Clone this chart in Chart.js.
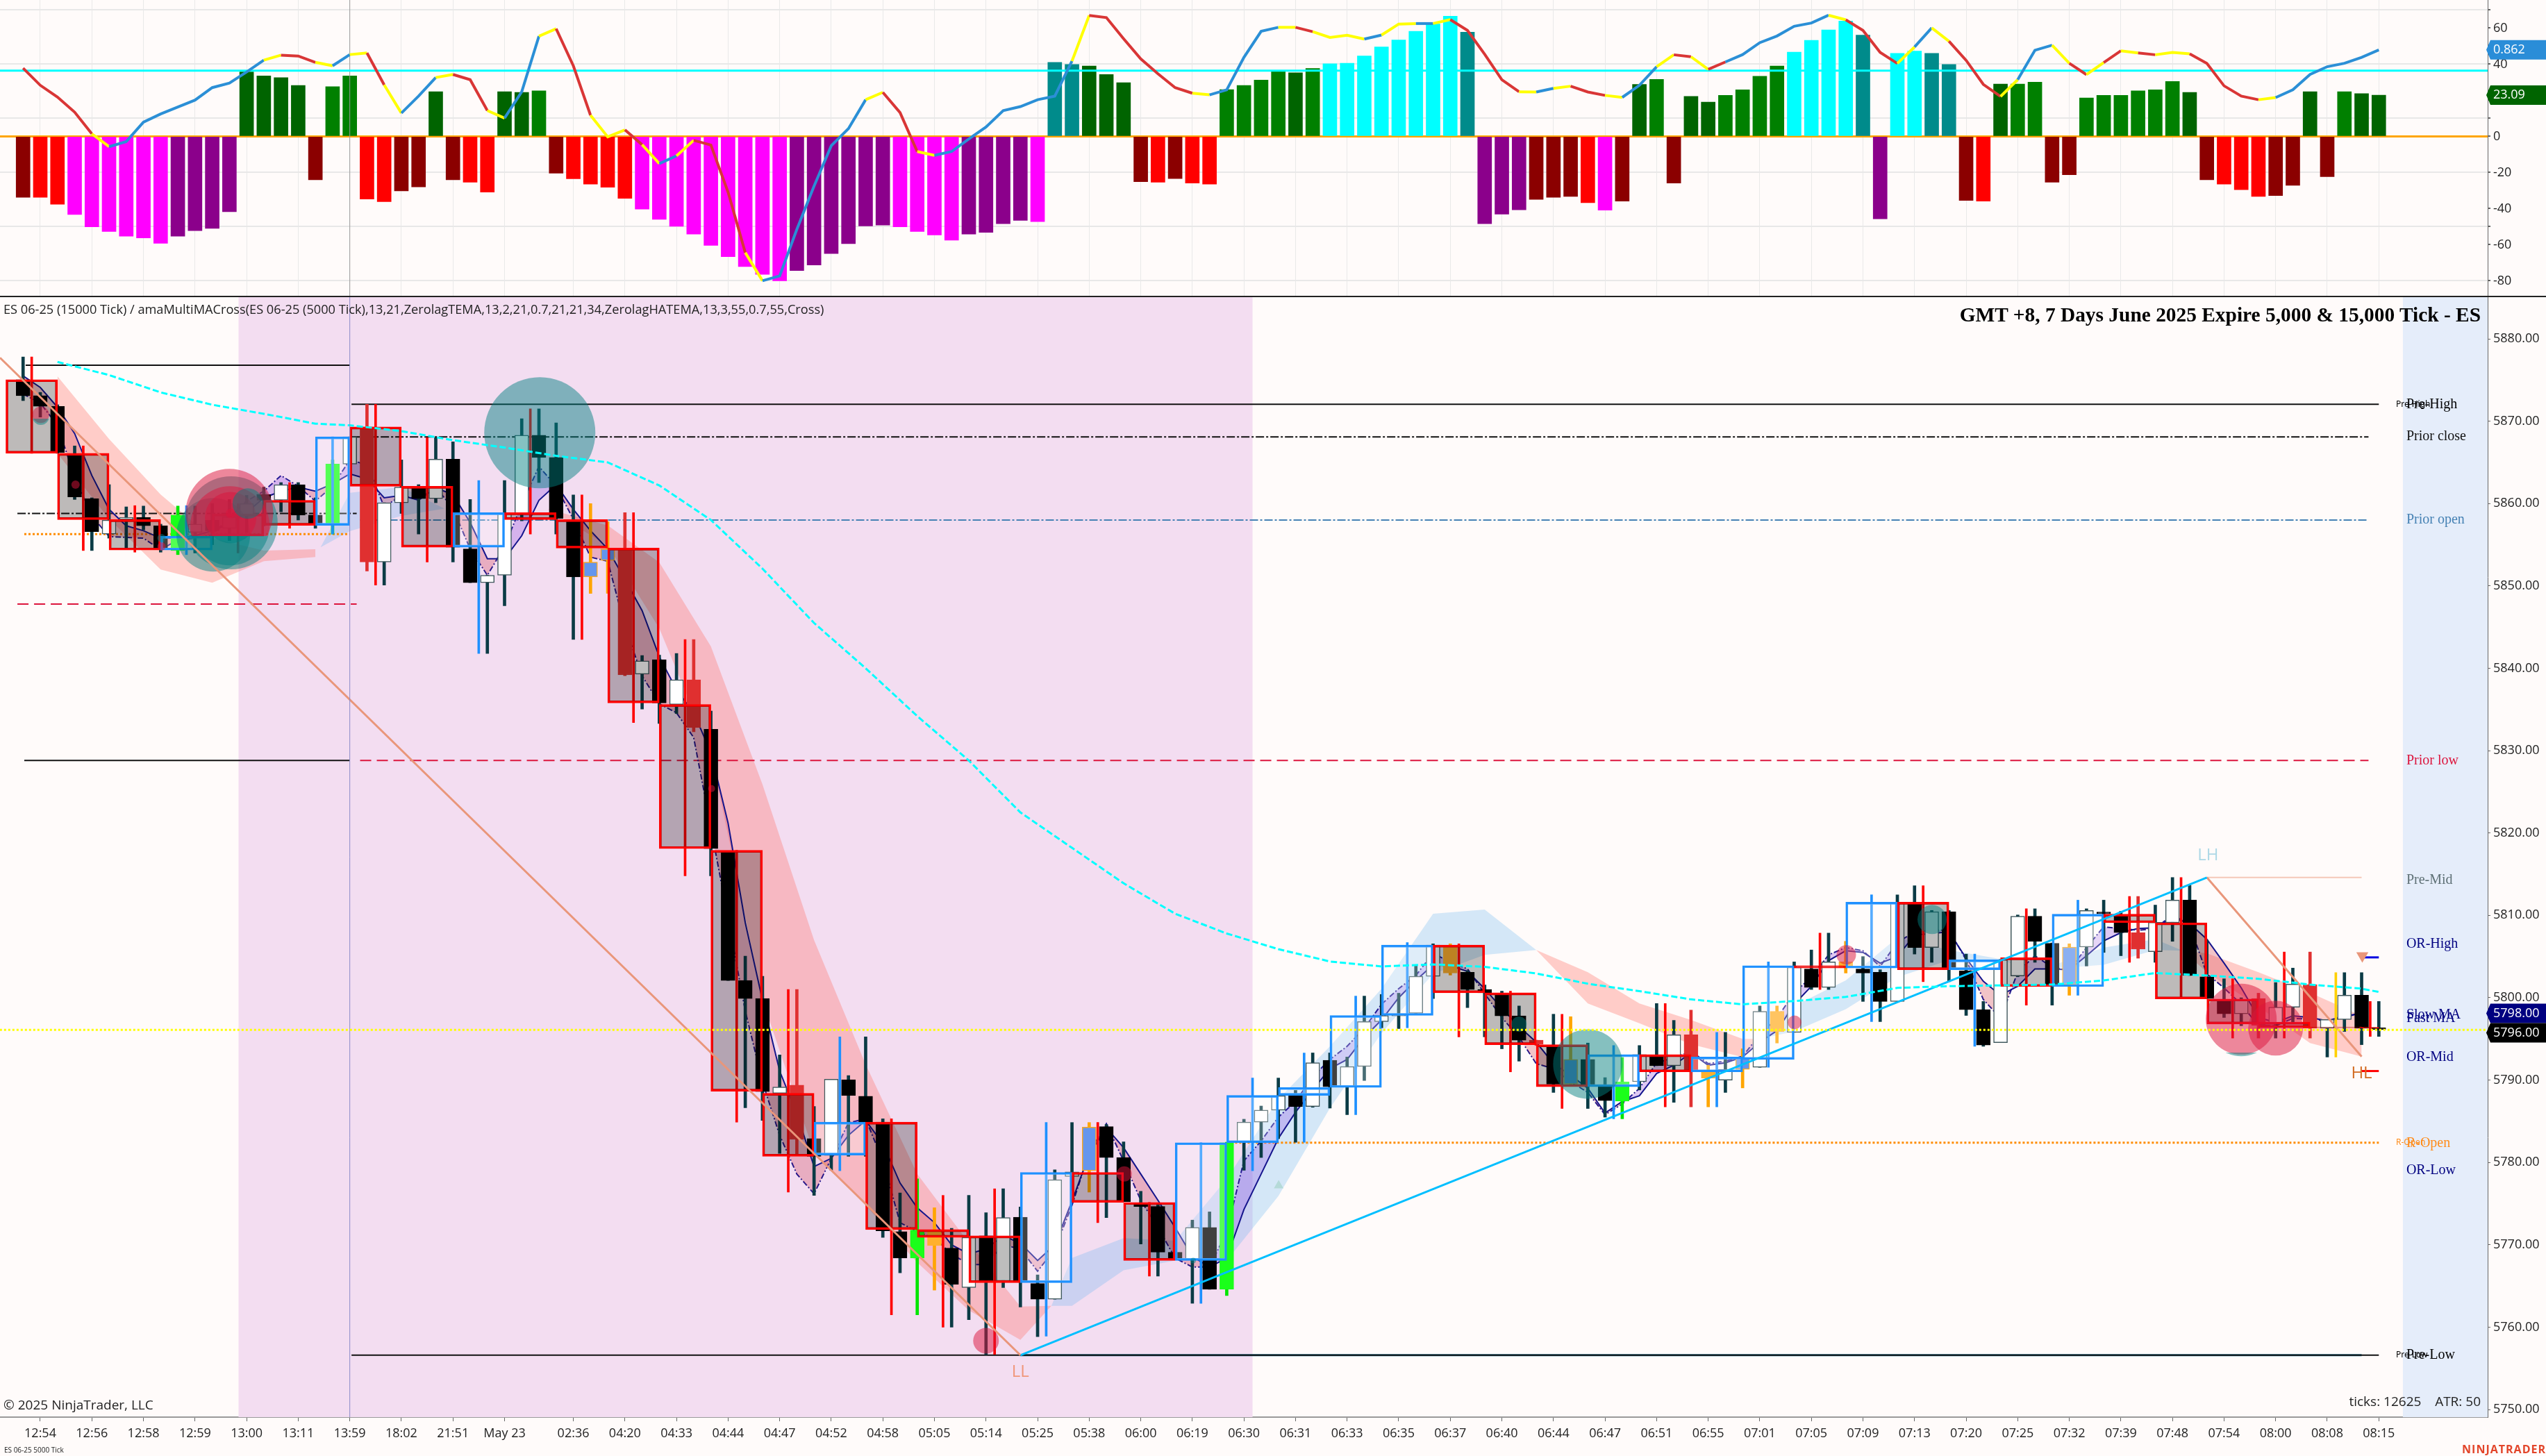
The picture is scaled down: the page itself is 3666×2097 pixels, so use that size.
<!DOCTYPE html>
<html>
<head>
<meta charset="utf-8">
<title>ES 06-25</title>
<script src="https://cdn.jsdelivr.net/npm/chart.js"></script>
<style>
  html, body { margin: 0; padding: 0; background: #fffbfa; overflow: hidden; }
  body { width: 3666px; height: 2097px; position: relative; }
  canvas { position: absolute; left: 0; }
  #oscChart { top: 0; }
  #priceChart { top: 428px; }
  #panelLine { position: absolute; left: 0; top: 426px; width: 3666px; height: 2px; background: #222; }
  .txt { position: absolute; white-space: nowrap; color: #222; font-family: "Open Sans", sans-serif; }
</style>
</head>
<body>
<canvas id="oscChart" width="3666" height="427"></canvas>
<canvas id="priceChart" width="3666" height="1669"></canvas>
<div id="panelLine"></div>
<div class="txt" style="left:5px;top:433px;font-size:18.2px">ES 06-25 (15000 Tick) / amaMultiMACross(ES 06-25 (5000 Tick),13,21,ZerolagTEMA,13,2,21,0.7,21,21,34,ZerolagHATEMA,13,3,55,0.7,55,Cross)</div>
<div class="txt" style="right:94px;top:437px;font-size:29.4px;font-weight:bold;color:#000;font-family:'Liberation Serif',serif">GMT +8, 7 Days June 2025 Expire 5,000 &amp; 15,000 Tick - ES</div>
<div class="txt" style="left:5px;top:2010px;font-size:19px">© 2025 NinjaTrader, LLC</div>
<div class="txt" style="right:94px;top:2005px;font-size:19px">ticks: 12625&nbsp;&nbsp;&nbsp;&nbsp;ATR: 50</div>
<div class="txt" style="left:6px;top:2081px;font-size:10px">ES 06-25 5000 Tick</div>
<div class="txt" style="right:0;top:2076px;font-size:16px;font-weight:bold;color:#e2452a;letter-spacing:1px">NINJATRADER</div>

<script>
// time axis
const timeLabels = ["12:54","12:56","12:58","12:59","13:00","13:11","13:59","18:02","21:51","May 23","02:36","04:20","04:33","04:44","04:47","04:52","04:58","05:05","05:14","05:25","05:38","06:00","06:19","06:30","06:31","06:33","06:35","06:37","06:40","06:44","06:47","06:51","06:55","07:01","07:05","07:09","07:13","07:20","07:25","07:32","07:39","07:48","07:54","08:00","08:08","08:15"];
const timeBars = [1,4,7,10,13,16,19,22,25,28,32,35,38,41,44,47,50,53,56,59,62,65,68,71,74,77,80,83,86,89,92,95,98,101,104,107,110,113,116,119,122,125,128,131,134,137];
const priceTicks = [5880,5870,5860,5850,5840,5830,5820,5810,5800,5790,5780,5770,5760,5750];
const oscTicks = [70,60,40,20,10,0,-20,-40,-50,-60,-80];
const oscGridLines = [70,40,10,-20,-50,-80];
const oscHiddenLabels = [70,10,-50];

// oscillator panel
const oscBars = [-33.8,-33.8,-37.6,-43.3,-50.1,-52.7,-55.3,-56.3,-59.2,-55.3,-52.2,-51,-41.7,35.7,33.5,32.5,28.2,-24,27.5,33.5,
  -34.7,-36.2,-30.2,-28,24.7,-24,-25.4,-30.9,24.7,24.4,25.2,-20.4,-23.5,-26.4,-28.2,-34.3,-40.3,-46,-49.8,-54.1,
  -60.4,-66.6,-72.1,-76.4,-80,-74.3,-71.3,-64.9,-59.4,-49.6,-49.1,-50.1,-52.7,-54.6,-57.5,-54.1,-53.2,-48.4,-46.5,-47.2,
  41,39.8,39,34.3,29.7,-25.1,-25.4,-23.4,-25.9,-26.4,25.9,28.2,31.2,36.1,35.2,37.6,40.2,40.5,44.5,49.5,
  53.4,58.2,62.2,66.6,57.7,-48.4,-43.1,-40.7,-34.9,-33.8,-33.3,-36.7,-40.9,-35.9,28.8,31.6,-25.9,22.1,19,22.7,
  25.8,33.3,39,46.7,53.2,59,63.9,56.1,-45.7,46,47.2,46,39.8,-35.5,-35.9,29,29,30,-25.4,-21.3,
  21.3,22.7,22.7,25.2,25.8,30.4,24.4,-24,-26.4,-29.5,-33.3,-32.8,-27.1,24.7,-22.3,24.7,23.7,22.8];
const oscBarKinds = "DRRMMMMMMPPPPGGGGDggRRDDGDRRGGgDRRRRMMMMMMMMMPPPPPPMMMMPPPPMTTGGGDRDRRggggGgCCCCCCCCTPPPDDDRMDGgDGGggggCCCCTPCCTTDRGggDDggggggGDRRRDDGDgGG";
const oscLine = [37.8,28.3,21.8,13.4,1.4,-5.7,-2.9,7.9,12.4,16.3,20.1,27,29.5,35.7,42.2,45,44.5,41,39.1,45.3,
  46.2,28.5,12.9,22.3,32.6,34.3,31.4,14.3,10.1,24.7,55.5,59.6,39.1,11.7,-0.3,3.6,-4.6,-15.1,-10.8,-2.2,
  -4.8,-30.9,-64.4,-80,-77.3,-51.5,-27.5,-5.2,4.3,20.3,24.4,13.2,-8.4,-10.5,-8.4,-1.4,5.2,14.3,16.5,20.3,
  22.3,41.7,67,65.8,54.1,42.9,34.7,27,23.9,23,25.8,43.8,58.2,60.4,60.4,58,54.8,56,53.9,56.1,
  62.2,62.5,62.5,64.7,58.7,45.5,31.4,24.7,24.6,26.6,27.8,24.6,22.7,21.6,28.3,38.6,45.2,44.1,37.1,41.2,
  45.3,51.9,55.6,61,62.8,67.1,64.6,58.7,46.5,40.4,49.5,60.1,52.7,42.1,28.8,22.1,31.4,47.7,50.5,40.5,
  34.2,40.9,47.4,46.2,45.2,46.5,45.7,40.4,28,22.3,20.3,21.5,25.8,34.3,38.6,40.5,43.8,47.9];
const oscLineTrend = "rrrrybbbbbbbbbyrrybyrybbyrrybbyrryyrybyrrrybbbbbbyrrybbbbbbbbyrrrrrrybbbbyryyybyybyrrrrybyrrybbyryrbbbbbbyrrrybyrrrybbyryryryyrrrrybbbbbbb".split("");
const oscCyanLevel = 36.4;
const oscZeroLevel = 0;

// price panel, 5000 tick candles
const candleOpen = [5875.05,5873.1,5871.8,5866,5860.6,5856.3,5858.1,5858.3,5857.3,5854.3,
  5856.5,5858,5857,5858.5,5861.1,5860.4,5862.3,5858.6,5857.35,5864.8,
  5869.3,5852.9,5860.1,5862,5860.6,5865.4,5854.5,5850.4,5851.3,5858.8,
  5868.3,5865.6,5858.05,5851.1,5853.1,5854.5,5839.3,5841.05,5835.6,5838.6,
  5832.6,5817.75,5802.1,5799.9,5788.4,5789.4,5782.9,5780.85,5790.05,5788.05,
  5784.9,5771.6,5768.4,5769.9,5769.6,5764.8,5771.1,5765.6,5773.35,5765.3,
  5763.4,5778.3,5779,5784.35,5780.6,5775.1,5774.65,5769.1,5768.2,5772.1,
  5764.6,5782.4,5784.9,5786.35,5788.1,5786.8,5792.4,5789.2,5791.65,5797.1,
  5797.8,5798.1,5802.6,5806.2,5803.1,5801,5800.5,5797.8,5794.85,5794.2,
  5789.5,5792.5,5789.3,5787.45,5789.8,5792.95,5791.75,5795.5,5791,5790,
  5791.3,5791.55,5795.9,5795.8,5803.5,5801.25,5803.65,5803.5,5803.1,5799.55,
  5811.55,5806.1,5810.45,5803.25,5798.55,5794.55,5802.65,5809.9,5806.6,5801.6,
  5806.15,5810.4,5810,5807.9,5805.6,5809.1,5811.85,5802.55,5799.75,5798.05,
  5799.9,5796.9,5798.85,5801.6,5796.3,5797.35,5800.3,5796.35];
const candleHigh = [5877.8,5873.5,5872,5867,5860.7,5862.3,5859.6,5859.7,5857.5,5859.7,
  5859.7,5860,5860.5,5861,5862,5862.55,5862.55,5860.7,5865.3,5868.1,
  5872.05,5860.1,5865.3,5862.3,5868,5867.5,5860.5,5851.3,5862.8,5870.3,
  5871.5,5869.8,5861.05,5860,5857.8,5858.9,5841.55,5841.6,5841.8,5843.5,
  5834.8,5817.8,5805.05,5802.6,5793.05,5801,5786.8,5790.1,5790.55,5795.25,
  5785.3,5776.3,5778,5774.5,5772,5776,5773.9,5776.8,5774.6,5766.35,
  5779.1,5784.85,5784.85,5784.6,5782.5,5776.5,5775.1,5769.1,5773,5774,
  5782.45,5785.25,5786.85,5790.25,5788.75,5793.3,5793.3,5792.8,5800.2,5800.4,
  5800.55,5804,5806.55,5806.55,5803.3,5801.55,5800.8,5799,5794.85,5798,
  5797.7,5794.5,5790.3,5792.75,5794.2,5799.3,5797.25,5798.5,5791.8,5795.8,
  5793.8,5799,5799,5804.35,5805.8,5807.85,5806.85,5805,5803.4,5812.5,
  5813.6,5810.6,5810.6,5805.3,5799.55,5804.65,5810.05,5810.8,5806.65,5806.55,
  5810.8,5811.85,5810.5,5812.3,5811.25,5814.6,5813.65,5807,5802.3,5800,
  5800.55,5801.85,5803.6,5805.55,5797.35,5803.05,5803.05,5799.55];
const candleLow = [5872.5,5870.5,5866.1,5860.5,5854.3,5855.8,5854.6,5856.8,5854.1,5853.8,
  5854,5855,5855.5,5856.5,5857.3,5859,5858,5857,5856.3,5864.8,
  5851.8,5850.1,5858.8,5856.3,5860.1,5852.9,5850.4,5841.8,5847.6,5857.9,
  5862.55,5856.3,5843.5,5849.1,5849.1,5839.1,5835.05,5833.3,5834.5,5832.3,
  5814.8,5802.1,5786.65,5785.1,5781.1,5780.8,5776,5779.05,5780.75,5780.75,
  5770.9,5766.6,5761.5,5764.5,5760,5760.9,5756.65,5764.8,5762.45,5758.85,
  5763.4,5776.6,5776.4,5773.3,5775.25,5770.1,5766.2,5768.2,5762.9,5764.6,
  5763.85,5779.05,5780.6,5782.9,5782.45,5786.7,5786.6,5785.8,5789.95,5796.35,
  5796.25,5798,5799.9,5802.75,5798.8,5795.25,5793.8,5792.3,5794.2,5788.5,
  5789.5,5786.55,5785.5,5785.3,5788.8,5791.75,5787.3,5786.75,5786.75,5788.5,
  5789.05,5791.55,5794.5,5795.8,5801,5801,5803,5799.55,5797.1,5799.55,
  5805.3,5804.3,5801.95,5797.85,5794.1,5794.55,5802.55,5804.3,5799.1,5800.3,
  5803.85,5805.5,5805.1,5804.8,5804.3,5806.85,5802.7,5799.9,5797.6,5796.6,
  5795.1,5795.1,5796.95,5795.1,5792.8,5795.9,5794.3,5795.3];
const candleClose = [5873.1,5871.8,5866.2,5860.8,5856.6,5858,5858.3,5857.3,5854.4,5858.6,
  5857.5,5856.7,5858.4,5860,5860.4,5862.3,5858.6,5857.4,5864.8,5868.1,
  5852.9,5860.1,5862,5860.6,5865.4,5854.7,5850.4,5851.3,5858.8,5868.3,
  5865.6,5858.2,5851.1,5852.9,5854.5,5839.2,5840.9,5835.8,5838.6,5832.8,
  5818.1,5802.1,5799.9,5788.6,5789.15,5782.8,5780.75,5790.1,5788.15,5784.85,
  5771.7,5768.4,5771.8,5771.7,5765.2,5770.9,5765.6,5773.3,5765.6,5763.4,
  5777.9,5778.85,5784.3,5780.6,5775.25,5774.65,5769.1,5768.2,5772.1,5764.6,
  5782.4,5784.9,5786.35,5788.1,5786.8,5792.1,5789.2,5791.65,5797.1,5797.85,
  5798,5802.6,5806.4,5803,5801,5800.6,5797.8,5794.85,5794.35,5789.5,
  5792.5,5789.3,5787.5,5789.8,5793.1,5791.75,5795.5,5791,5790.25,5791.3,
  5792.7,5798.35,5798.35,5803.7,5801.25,5804.35,5804.35,5803,5799.55,5811.6,
  5806.1,5810.45,5803.4,5798.55,5794.25,5804.6,5809.9,5806.85,5801.5,5806.15,
  5810.6,5810.2,5807.9,5805.9,5809.15,5811.85,5802.7,5799.9,5798.05,5799.75,
  5796.65,5798.85,5801.65,5796.3,5797.35,5800.3,5796.3,5796.15];
const candleKinds = "kkkkkwwkklwkwwkwkklwrwwkwkkwwwkkkbbrwkwrkkkkwrkwkkkklokwkwkkwwbkkkkkwklwwwkwkwwwwwwokkkkrkbkklwkwrowbwowkwokkwkwkkkwwkkbwkkrwwkkkwrwwrwwkk";

// price panel, 15000 tick bars
const boxStart = [-1,2,5,8,11,14,17,19,22,25,28,31,34,37,40,43,46,49,52,55,58,61,64,67,70,73,76,79,82,85,88,91,94,97,100,103,106,109,112,115,118,121,124,127,130,133,136];
const boxEnd = [2,5,8,11,14,17,19,22,25,28,31,34,37,40,43,46,49,52,55,58,61,64,67,70,73,76,79,82,85,88,91,94,97,100,103,106,109,112,115,118,121,124,127,130,133,136,137];
const boxTop = [5875.05,5866.1,5858.05,5856.05,5858.75,5860.4,5868.1,5869.3,5862.1,5858.9,5858.9,5858.05,5854.6,5835.6,5817.9,5788.4,5784.9,5784.9,5771.85,5771.1,5778.8,5778.8,5775.15,5782.4,5788.15,5789.1,5797.85,5806.4,5806.4,5800.6,5794.3,5793.1,5793.1,5792.8,5803.9,5803.9,5811.6,5811.6,5804.6,5804.85,5810.15,5810.15,5809.1,5799.85,5797.05,5796.45,5796.4];
const boxBottom = [5866.1,5858.05,5854.35,5854.35,5856.05,5857.35,5857.35,5862.1,5854.7,5854.7,5858.05,5854.6,5835.8,5818.1,5788.65,5780.75,5780.9,5771.85,5770.9,5765.4,5765.4,5775.15,5768.1,5768.1,5782.4,5788.15,5789.1,5797.85,5800.6,5794.3,5789.2,5789.2,5791,5791,5792.5,5803.6,5803.6,5803.4,5803.4,5801.35,5801.35,5809.1,5799.85,5796.8,5796.35,5796.35,5796.3];
const boxHigh = [5877.8,5867,5859.75,5859.75,5860,5862.55,5868.1,5872.05,5868,5862.8,5871.5,5861.05,5858.9,5843.5,5817.9,5801,5795.25,5785.3,5776,5776.8,5784.85,5784.85,5775.15,5782.4,5790.25,5793.3,5800.2,5806.7,5806.55,5800.8,5798,5794.2,5799.3,5795.8,5804.35,5807.85,5812.5,5813.6,5805.3,5810.8,5811.85,5812.3,5814.6,5802.3,5805.55,5803.05,5799.55];
const boxLow = [5866.1,5854.3,5854.1,5853.8,5854,5857,5856.3,5850.1,5852.9,5841.8,5856.3,5843.5,5833.4,5814.8,5784.9,5776.4,5779,5761.5,5760,5756.7,5758.9,5772.7,5766.2,5762.9,5779,5782.45,5785.8,5796.35,5795.25,5791,5786.55,5785.3,5786.75,5786.75,5791.55,5801,5797.1,5801.95,5794.1,5799.1,5800.3,5804.3,5799.85,5795.1,5795.1,5792.8,5795.3];
const boxKinds = "rrrbrrbrrbrrrrrrbrrrbrrbbbbbrrrbrbbrbrbrbrrrrrr";
const whiskerGold = 45;

// moving averages
const fastMA = [5875.5,5874.1,5871.7,5868.5,5863.4,5859.3,5857.3,5856.7,5855.8,5855.8,5856.1,5856.7,5857.5,5858.9,5860.7,5861.5,5862,5861.5,5862.4,5863.6,
  5863,5860.7,5861,5860.4,5861.9,5861.1,5857.7,5853.3,5853.3,5856.1,5860.4,5862.3,5859.3,5856.7,5854.5,5850.8,5847,5841.4,5837.4,5834.6,
  5829.8,5821.2,5809.1,5799.7,5791.1,5785.9,5779.5,5780.5,5783.3,5785.1,5782.3,5777.5,5774.5,5772.7,5770,5768.9,5769.5,5771.1,5770.2,5768.1,
  5770,5775.3,5781,5784.2,5781.8,5778.6,5775.4,5772.1,5768.6,5767.3,5768.4,5774.3,5778.6,5782.9,5786.1,5788.8,5791.4,5792.5,5795.2,5797.3,
  5800,5802.1,5804,5803.9,5803.2,5801.1,5798.7,5796.5,5794.6,5792,5790.6,5789,5786,5787.4,5788.1,5790.8,5791.8,5793.3,5791.8,5792.1,
  5792.8,5794.6,5796,5799.2,5801.4,5804.5,5805.7,5805.5,5804.2,5805,5807.6,5807.8,5808,5804.8,5802,5800.3,5801.4,5803.5,5803.5,5803.4,
  5805.1,5806.9,5807.9,5808.4,5808.5,5809.7,5809,5807.1,5804.2,5801.2,5797.6,5797,5797.8,5797.6,5797.2,5797.6,5798.2];
const slowMA = [5873.3,5872.2,5869.5,5863.2,5858.5,5856,5855.9,5855.8,5854.4,5855.6,5855.8,5856.2,5858.3,5860.3,5861.5,5863.4,5862.1,5860.3,5862.1,5865.3,
  5864.7,5859.6,5861,5860.5,5862,5859.4,5854.5,5851.3,5854.8,5859.9,5864.5,5862.1,5858.1,5853.5,5853,5845.1,5839.1,5835.7,5834.6,5831.6,
  5820.7,5809.6,5798.4,5789.8,5783.3,5778.6,5776.2,5780.5,5784.8,5785.3,5780.2,5772.7,5771.6,5770.8,5768.9,5767.6,5767.6,5770,5769.5,5766.8,
  5769.5,5774.8,5781.2,5784.7,5780.2,5775.4,5772.1,5768.4,5767.3,5767.3,5771.6,5780.2,5782.6,5785.5,5787.4,5790.4,5792.5,5794.1,5796.3,5799.2,
  5801.1,5802.7,5805.4,5804.3,5803.5,5800.5,5797.6,5795.2,5792,5791.4,5789.8,5788.5,5785.8,5787.1,5789,5792.1,5792.7,5793.5,5792,5792.3,
  5792.9,5795.5,5797.5,5800.6,5802.5,5805.2,5806.1,5805.7,5803.8,5806.7,5808,5808.2,5808.2,5804.6,5799.8,5797.5,5803.1,5805.1,5803.7,5803.3,
  5806.1,5808.6,5808.4,5808.2,5808.4,5810.1,5808.8,5802.9,5801.2,5799.2,5796.6,5796.6,5797.5,5797.4,5797.2,5797.8,5798.1];
const cyanBars = [2,5,8,11,14,17,19,22,25,28,31,34,37,40,43,46,49,52,55,58,61,64,67,70,73,76,79,82,85,88,91,94,97,100,103,106,109,112,115,118,121,124,127,130,133,136,137];
const cyanMA = [5877.2,5875.6,5873.5,5872,5870.9,5869.7,5869.5,5868.8,5867.7,5866.8,5865.8,5865,5862.2,5858,5852.1,5845.5,5840,5834.2,5828.8,5822.5,5818.2,5813.9,5810.2,5807.8,5805.9,5804.4,5803.8,5804.05,5803.75,5802.95,5801.7,5800.8,5799.8,5799.2,5799.6,5800.1,5801.2,5801.4,5801.5,5801.6,5802.1,5803,5802.7,5802.3,5801.6,5801.1,5800.7];

// ribbons, falling
const fallBars1 = [2,5,8,11,14,17];
const fallTop1 = [5875.45,5867.85,5861.1,5855.8,5854.3,5854.45];
const fallBottom1 = [5866.1,5858.15,5852,5850.4,5853,5853.5];
const fallBars2 = [30.5,34,37,40,43,46,49,52,55,58,59.8];
const fallTop2 = [5859.35,5857.35,5852.85,5842.65,5825.9,5807,5791.9,5778.6,5770.25,5762.5,5762.6];
const fallBottom2 = [5859.35,5854.9,5844.85,5829.7,5799.75,5781.2,5774.8,5767.85,5762.05,5758.45,5762.6];
const fallBars3 = [88,91,94,97,100,101];
const fallTop3 = [5805.8,5803.1,5799.3,5797.3,5795,5795];
const fallBottom3 = [5805.8,5799.3,5796.9,5794.35,5792.8,5795];
const fallBars4 = [125.6,127,130,133,136];
const fallTop4 = [5805.7,5805.4,5803.1,5800.6,5797.8];
const fallBottom4 = [5805.7,5803.1,5798.9,5794.5,5792.85];
// ribbons, rising
const riseBars1 = [17.3,19,22,24.5];
const riseTop1 = [5854.7,5861.3,5862,5859.4];
const riseBottom1 = [5854.7,5856.65,5858.5,5859.4];
const riseBars2 = [59.8,61,64,67,70,73,76,79,82,85,88];
const riseTop2 = [5762.6,5768.4,5770.8,5770.5,5778,5787.7,5794.1,5801.1,5810.2,5810.7,5805.8];
const riseBottom2 = [5762.6,5762.6,5766.9,5768.1,5768.1,5775.9,5786.6,5795.7,5802.9,5805.2,5805.8];
const riseBars3 = [101,103,106,109,112,115,117.3];
const riseTop3 = [5795,5799,5802.1,5807.3,5805.8,5804.7,5803.4];
const riseBottom3 = [5795,5795.9,5798.6,5802.5,5804.55,5804.55,5803.4];
const riseBars4 = [117.3,121,124,125.6];
const riseTop4 = [5803.4,5806.1,5807.1,5805.7];
const riseBottom4 = [5803.4,5804,5805.8,5805.7];

// horizontal levels
const levelPrice = [5876.8,5858.8,5856.3,5847.8,5828.8,5872.05,5868.1,5858,5828.8,5756.6,5756.6,5782.4,5796.1,5814.6,5804.9,5791.1];
const levelFrom = [0.15,-0.33,0.07,-0.33,0.07,19.1,19.1,19.6,19.6,19.1,58,70,-1.35,127,136.1,136];
const levelTo = [19,19.4,19,19.4,19,137,136.4,136.4,136.4,137,136,137,143.4,136,137,137];
const levelKind = ["solid","close","orange","low","solid","solid","close","open","low","solid","teal","orange","yellow","peach","navy","red"];

// swing lines
const swingDownBars = [-1.34,58];
const swingDownPrices = [5877.7,5756.6];
const swingUpBars = [58,127];
const swingUpPrices = [5756.6,5814.6];
const swingLastBars = [127,136];
const swingLastPrices = [5814.6,5792.85];

// signal circles
const tealBars = [11.06,12.1,8.05,68.05,91,87,111.02,30.05];
const tealPrices = [5856.2,5857.66,5855.8,5768.1,5791.95,5796.8,5809.5,5868.6];
const tealSizes = [53,67,6,4,50,11,21,80];
const redBars = [1.03,3.05,8.05,40.04,56,64.04,106.03,103.02,129,131];
const redPrices = [5870.8,5862.3,5854.8,5825.4,5758.35,5778.6,5805.2,5797,5797.4,5796.3];
const redSizes = [12,6,6,5,18.5,11,14,10,51,39.5];
const clusterRedBars = [12,12.03,12.07,12.07];
const clusterRedPrices = [5858.9,5857.3,5858.3,5858.8];
const clusterRedSizes = [63,57,37,7];
const clusterTealBars = [12.03,12.07];
const clusterTealPrices = [5857.3,5858.3];
const clusterTealSizes = [57,37];
const topTealBars = [13.07];
const topTealPrices = [5860];
const topTealSizes = [22];
const capTealBarsA = [1.03];
const capTealPricesA = [5870.55];
const capTealSizesA = [12];
const capTealBarsB = [129];
const capTealPricesB = [5797.2];
const capTealSizesB = [51];

// right side labels
const levelLabels = ["Pre-High","Prior close","Prior open","Prior low","Pre-Mid","OR-High","Slow MA","Fast MA","OR-Mid","R-Open","OR-Low","Pre-Low"];
const levelLabelPrices = [5872,5868.1,5858,5828.8,5814.3,5806.55,5797.95,5797.45,5792.8,5782.3,5779.05,5756.6];
const levelLabelColors = ["#000","#111","#4682b4","#dc143c","#5e7075","#000080","#000080","#000080","#000080","#ff8c1a","#000080","#000"];
const smallLabels = ["Pre-High","R-Open","Pre-Low"];
const smallLabelPrices = [5872.05,5782.4,5756.6];
const swingLabels = ["LL","LH","HL"];
const swingLabelBars = [58,127.07,136];
const swingLabelPrices = [5754.55,5817.3,5790.8];
const swingLabelColors = ["#f0967a","#add8e6","#d2691e"];
const oscTags = ["0.862","23.09"];
const oscTagValues = [47.9,22.8];
const oscTagColors = ["#2a8dd8","#006400"];
const priceTags = ["5798.00","5796.00"];
const priceTagValues = [5798.1,5795.75];
const priceTagColors = ["#000080","#000"];

const barStep = 24.76;
const xMin = -1.3425;
const xMax = 143.33;
const axisFont = { family: "'Open Sans', sans-serif", size: 18 };
const wickDark = "#0b3b45";
const tealFill = "rgba(0,128,128,0.48)";
const redFill = "rgba(220,20,60,0.5)";

const oscColors = { D: "#8b0000", R: "#ff0000", M: "#ff00ff", P: "#8b008b", G: "#006400", g: "#008000", T: "#008b8b", C: "#00ffff" };
const trendColors = { r: "#d93636", b: "#2b8fd6", y: "#ffff00" };
const bodyColors = { k: "#000", w: "#fff", r: "#e03030", o: "#ffb02e", l: "#1aff1a", b: "#6495ed" };
const bodyBorders = { k: "#000", w: "#41595e", r: "#e03030", o: "#ffb02e", l: "#1aff1a", b: "#f5a623" };
const wickColors = { k: wickDark, w: wickDark, r: "#e03030", o: "#ffa500", l: "#00e600", b: "#ffa500" };
const levelStyles = {
  solid: { color: "#111", width: 2, dash: [] },
  close: { color: "#111", width: 2, dash: [12, 3, 3, 3] },
  open: { color: "#4682b4", width: 2, dash: [12, 3, 3, 3] },
  low: { color: "#dc143c", width: 2, dash: [16, 8] },
  orange: { color: "#ff8c00", width: 3, dash: [3, 3] },
  yellow: { color: "#ffff00", width: 3, dash: [3, 3] },
  teal: { color: "#1a6b8a", width: 3, dash: [] },
  peach: { color: "#f4c8b8", width: 2, dash: [] },
  navy: { color: "#0000e0", width: 3, dash: [] },
  red: { color: "#ff0000", width: 3, dash: [] },
};

function xyPoints(xs, ys) {
  return xs.map((x, i) => ({ x: x, y: ys[i] }));
}

function lineLayer(xs, ys, color, width, dash, order, extra) {
  return Object.assign({
    type: "line",
    data: xyPoints(xs, ys),
    borderColor: color,
    borderWidth: width,
    borderDash: dash,
    pointRadius: 0,
    tension: 0,
    fill: false,
    order: order,
  }, extra || {});
}

function bandLayers(xs, top, bottom, color, order) {
  return [
    lineLayer(xs, top, "transparent", 0, [], order, { fill: { target: "+1", above: color, below: color } }),
    lineLayer(xs, bottom, "transparent", 0, [], order),
  ];
}

function circleLayer(xs, ys, sizes, color, order, clip) {
  const layer = {
    type: "scatter",
    data: xyPoints(xs, ys),
    pointRadius: sizes,
    pointBackgroundColor: color,
    pointBorderWidth: 0,
    order: order,
  };
  if (clip) layer.clip = clip;
  return layer;
}

function pinAxis(scale) {
  scale.paddingTop = 0;
  scale.paddingBottom = 0;
  scale.paddingLeft = 0;
  scale.paddingRight = 0;
}

function tagPlugin(scaleId, texts, values, colors) {
  return {
    id: "tags" + scaleId,
    afterDraw(chart) {
      const ctx = chart.ctx;
      const scale = chart.scales[scaleId];
      const left = chart.chartArea.right;
      ctx.save();
      ctx.font = "18px 'Open Sans', sans-serif";
      ctx.textBaseline = "middle";
      texts.forEach((text, i) => {
        const y = scale.getPixelForValue(values[i]);
        ctx.fillStyle = colors[i];
        ctx.beginPath();
        ctx.moveTo(left - 2, y);
        ctx.lineTo(left + 4, y - 14);
        ctx.lineTo(chart.width, y - 14);
        ctx.lineTo(chart.width, y + 14);
        ctx.lineTo(left + 4, y + 14);
        ctx.closePath();
        ctx.fill();
        ctx.fillStyle = "#fff";
        ctx.fillText(text, left + 8, y);
      });
      ctx.restore();
    },
  };
}

// session backgrounds
const sessionPlugin = {
  id: "sessions",
  beforeDatasetsDraw(chart) {
    const ctx = chart.ctx;
    const area = chart.chartArea;
    const x = chart.scales.x;
    ctx.save();
    ctx.fillStyle = "#f3ddf1";
    ctx.fillRect(x.getPixelForValue(12.53), area.top, x.getPixelForValue(71.5) - x.getPixelForValue(12.53), area.height);
    ctx.fillStyle = "#e5edfa";
    ctx.fillRect(x.getPixelForValue(138.4), area.top, area.right - x.getPixelForValue(138.4), area.height);
    ctx.restore();
  },
};

const labelPlugin = {
  id: "levelLabels",
  afterDatasetsDraw(chart) {
    const ctx = chart.ctx;
    const x = chart.scales.x;
    const y = chart.scales.y;
    ctx.save();
    ctx.textBaseline = "middle";
    ctx.textAlign = "left";
    ctx.font = "12px 'Noto Sans', sans-serif";
    smallLabels.forEach((text, i) => {
      ctx.fillStyle = levelLabelColors[levelLabels.indexOf(text)];
      ctx.fillText(text, x.getPixelForValue(138), y.getPixelForValue(smallLabelPrices[i]));
    });
    ctx.font = "20px 'Liberation Serif', serif";
    levelLabels.forEach((text, i) => {
      ctx.fillStyle = levelLabelColors[i];
      ctx.fillText(text, x.getPixelForValue(138.6), y.getPixelForValue(levelLabelPrices[i]));
    });
    ctx.font = "24px 'Open Sans', sans-serif";
    ctx.textAlign = "center";
    swingLabels.forEach((text, i) => {
      ctx.fillStyle = swingLabelColors[i];
      ctx.fillText(text, x.getPixelForValue(swingLabelBars[i]), y.getPixelForValue(swingLabelPrices[i]));
    });
    ctx.restore();
  },
};

function xAxis(showTicks) {
  return {
    type: "linear",
    min: xMin,
    max: xMax,
    offset: false,
    afterBuildTicks(scale) {
      scale.ticks = timeBars.map((bar) => ({ value: bar }));
    },
    afterFit(scale) {
      pinAxis(scale);
      scale.height = showTicks ? 56 : 0;
    },
    border: { display: showTicks, color: "#9a9a9a", width: 2 },
    grid: {
      offset: false,
      display: true,
      drawOnChartArea: !showTicks,
      drawTicks: showTicks,
      tickLength: 6,
      tickColor: "#666",
      color: "#e9e9e9",
      lineWidth: 1,
    },
    ticks: {
      display: showTicks,
      autoSkip: false,
      maxRotation: 0,
      font: axisFont,
      color: "#222",
      padding: 7,
      callback: (value) => timeLabels[timeBars.indexOf(value)],
    },
  };
}

const sharedOptions = {
  responsive: false,
  animation: false,
  devicePixelRatio: 1,
  events: [],
  layout: { padding: 0, autoPadding: false },
  plugins: { legend: { display: false }, tooltip: { enabled: false }, title: { display: false } },
  datasets: { bar: { grouped: false, borderSkipped: false } },
};

// oscillator panel
const oscIndex = oscBars.map((v, i) => i);
new Chart(document.getElementById("oscChart"), {
  type: "bar",
  data: {
    datasets: [
      {
        data: xyPoints(oscIndex, oscBars),
        backgroundColor: oscBars.map((v, i) => oscColors[oscBarKinds[i]]),
        barThickness: 20,
        order: 5,
      },
      lineLayer([xMin, xMax], [oscZeroLevel, oscZeroLevel], "#ffa500", 3, [], 6),
      lineLayer([xMin, xMax], [oscCyanLevel, oscCyanLevel], "#00ffff", 3, [], 3),
      lineLayer([19, 19], [-89, 76], "#9a9a9a", 1, [], 4),
      lineLayer(oscIndex, oscLine, trendColors.r, 4, [], 1, {
        segment: { borderColor: (c) => trendColors[oscLineTrend[c.p0DataIndex]] },
      }),
    ],
  },
  options: Object.assign({}, sharedOptions, {
    scales: {
      x: xAxis(false),
      y: {
        position: "right",
        min: -88.69,
        max: 75.54,
        afterBuildTicks(scale) {
          scale.ticks = oscTicks.map((v) => ({ value: v }));
        },
        afterFit(scale) {
          pinAxis(scale);
          scale.width = 84;
        },
        border: { color: "#666", width: 1 },
        grid: {
          lineWidth: 2,
          color: (c) => (c.tick && oscGridLines.includes(c.tick.value) ? "#e8e8e8" : "transparent"),
          tickColor: "#666",
          tickLength: 4,
        },
        ticks: {
          font: axisFont,
          color: "#222",
          padding: 4,
          autoSkip: false,
          callback: (v) => (oscHiddenLabels.includes(v) ? "" : String(v)),
        },
      },
    },
  }),
  plugins: [tagPlugin("y", oscTags, oscTagValues, oscTagColors)],
});

// price panel layers, first drawn has the highest order
const priceDatasets = [];
const fallColor = "rgba(255,110,100,0.33)";
const riseColor = "rgba(100,180,240,0.28)";
[[fallBars1, fallTop1, fallBottom1], [fallBars2, fallTop2, fallBottom2], [fallBars3, fallTop3, fallBottom3], [fallBars4, fallTop4, fallBottom4]]
  .forEach((b) => priceDatasets.push(...bandLayers(b[0], b[1], b[2], fallColor, 90)));
[[riseBars1, riseTop1, riseBottom1], [riseBars2, riseTop2, riseBottom2], [riseBars3, riseTop3, riseBottom3], [riseBars4, riseTop4, riseBottom4]]
  .forEach((b) => priceDatasets.push(...bandLayers(b[0], b[1], b[2], riseColor, 90)));

levelPrice.forEach((price, i) => {
  const style = levelStyles[levelKind[i]];
  const order = levelKind[i] === "yellow" ? 15 : 80;
  priceDatasets.push(lineLayer([levelFrom[i], levelTo[i]], [price, price], style.color, style.width, style.dash, order));
});

const candleIndex = candleOpen.map((v, i) => i);
const maIndex = fastMA.map((v, i) => i);
priceDatasets.push(lineLayer(maIndex, fastMA, "#14148c", 2, [], 70, {
  fill: { target: "+1", above: "rgba(205,50,70,0.28)", below: "rgba(138,70,226,0.28)" },
}));
priceDatasets.push(lineLayer(maIndex, slowMA, "#14148c", 2, [8, 3, 2, 3], 70));
priceDatasets.push({
  data: candleIndex.map((i) => ({ x: i, y: [candleLow[i], candleHigh[i]] })),
  backgroundColor: candleIndex.map((i) => wickColors[candleKinds[i]]),
  barThickness: 4,
  order: 60,
});
priceDatasets.push({
  data: candleIndex.map((i) => ({ x: i, y: [candleOpen[i], candleClose[i]] })),
  backgroundColor: candleIndex.map((i) => bodyColors[candleKinds[i]]),
  borderColor: candleIndex.map((i) => bodyBorders[candleKinds[i]]),
  borderWidth: 1.5,
  barThickness: 20,
  order: 50,
});

// 15000 tick bars, span in 5000 tick bars decides the width
const boxIndex = boxStart.map((v, i) => i);
const boxCenter = (i) => (boxStart[i] + boxEnd[i]) / 2;
priceDatasets.push({
  data: boxIndex.map((i) => ({ x: boxCenter(i), y: [boxLow[i], boxHigh[i]] })),
  backgroundColor: boxIndex.map((i) => (i === whiskerGold ? "#ffd000" : boxKinds[i] === "r" ? "#ff0000" : "#1e90ff")),
  barThickness: 3,
  order: 41,
});
[3, 2, 1].forEach((span) => {
  const ids = boxIndex.filter((i) => boxEnd[i] - boxStart[i] === span);
  priceDatasets.push({
    data: ids.map((i) => ({ x: boxCenter(i), y: [boxBottom[i], boxTop[i]] })),
    backgroundColor: ids.map((i) => (boxKinds[i] === "r" ? "rgba(0,0,0,0.26)" : "rgba(255,255,255,0.25)")),
    borderColor: ids.map((i) => (boxKinds[i] === "r" ? "#ff0000" : "#1e90ff")),
    borderWidth: 3,
    barThickness: span * barStep,
    order: 40,
  });
});

// circles: the reds stop at a line, the teal ones below them show as a cap
priceDatasets.push(circleLayer(tealBars, tealPrices, tealSizes, tealFill, 32));
priceDatasets.push(circleLayer(redBars, redPrices, redSizes, redFill, 31));
priceDatasets.push(circleLayer(clusterRedBars, clusterRedPrices, clusterRedSizes, redFill, 31,
  { top: 0, left: 0, right: 0, bottom: -1269 }));
priceDatasets.push(circleLayer(clusterTealBars, clusterTealPrices, clusterTealSizes, tealFill, 30,
  { top: -344, left: 0, right: 0, bottom: 0 }));
priceDatasets.push(circleLayer(topTealBars, topTealPrices, topTealSizes, tealFill, 30));
priceDatasets.push(circleLayer(capTealBarsA, capTealPricesA, capTealSizesA, tealFill, 30,
  { top: -175, left: 0, right: 0, bottom: 0 }));
priceDatasets.push(circleLayer(capTealBarsB, capTealPricesB, capTealSizesB, tealFill, 30,
  { top: -1088, left: 0, right: 0, bottom: 0 }));
priceDatasets.push(lineLayer(swingDownBars, swingDownPrices, "#e9967a", 3, [], 20));
priceDatasets.push(lineLayer(swingUpBars, swingUpPrices, "#00bfff", 3, [], 20));
priceDatasets.push(lineLayer(swingLastBars, swingLastPrices, "#e9967a", 3, [], 20));
priceDatasets.push(lineLayer(cyanBars, cyanMA, "#00ffff", 3, [9, 4], 18));
priceDatasets.push(lineLayer([19, 19], [5749, 5886], "#8a8ac8", 1, [], 16));
priceDatasets.push({
  type: "scatter",
  data: xyPoints([73.02], [5777.2]),
  pointStyle: "triangle",
  pointRadius: 8,
  pointBackgroundColor: "#b5dad8",
  pointBorderWidth: 0,
  order: 10,
});
priceDatasets.push({
  type: "scatter",
  data: xyPoints([136.04], [5805.1]),
  pointStyle: "triangle",
  pointRotation: 180,
  pointRadius: 10,
  pointBackgroundColor: "#e9967a",
  pointBorderWidth: 0,
  order: 10,
});

new Chart(document.getElementById("priceChart"), {
  type: "bar",
  data: { datasets: priceDatasets },
  options: Object.assign({}, sharedOptions, {
    scales: {
      x: xAxis(true),
      y: {
        position: "right",
        min: 5749.08,
        max: 5885.06,
        afterBuildTicks(scale) {
          scale.ticks = priceTicks.map((v) => ({ value: v }));
        },
        afterFit(scale) {
          pinAxis(scale);
          scale.width = 84;
        },
        border: { color: "#666", width: 1 },
        grid: { drawOnChartArea: false, tickColor: "#666", tickLength: 4 },
        ticks: {
          font: axisFont,
          color: "#222",
          padding: 4,
          autoSkip: false,
          callback: (v) => v.toFixed(2),
        },
      },
    },
  }),
  plugins: [sessionPlugin, labelPlugin, tagPlugin("y", priceTags, priceTagValues, priceTagColors)],
});
</script>
</body>
</html>
